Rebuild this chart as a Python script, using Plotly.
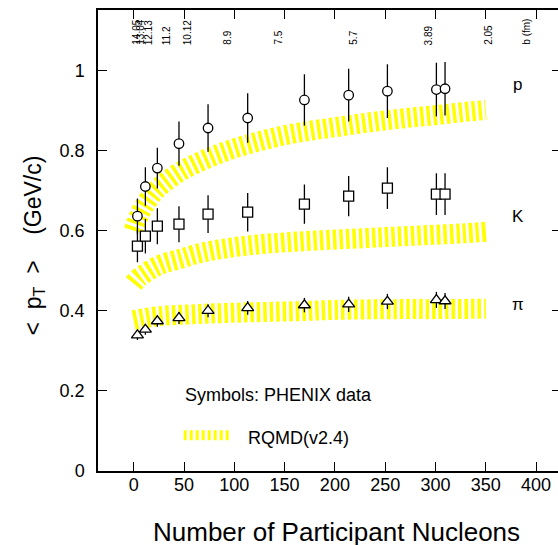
import plotly.graph_objects as go

# ---- data ----
npart = [3.7, 11.6, 23.5, 45.0, 73.9, 113.3, 169.7, 213.7, 252.2, 300.9, 309.5]
proton = [0.636, 0.710, 0.756, 0.817, 0.856, 0.881, 0.926, 0.938, 0.948, 0.952, 0.954]
proton_err = [0.044, 0.048, 0.051, 0.055, 0.059, 0.062, 0.064, 0.066, 0.067, 0.067, 0.067]
kaon = [0.561, 0.586, 0.611, 0.616, 0.641, 0.646, 0.666, 0.686, 0.706, 0.691, 0.691]
kaon_err = [0.040, 0.043, 0.045, 0.045, 0.047, 0.048, 0.049, 0.050, 0.052, 0.052, 0.052]
pion = [0.339, 0.353, 0.374, 0.382, 0.400, 0.407, 0.414, 0.416, 0.423, 0.427, 0.424]
pion_err = [0.012, 0.013, 0.014, 0.015, 0.016, 0.017, 0.018, 0.019, 0.019, 0.020, 0.020]

rqmd_n_p = [0, 5, 10, 20, 30, 45, 60, 80, 100, 125, 150, 175, 200, 225, 250, 275, 300, 325, 350]
rqmd_p = [0.600, 0.635, 0.660, 0.695, 0.718, 0.745, 0.765, 0.787, 0.805, 0.823, 0.838,
          0.849, 0.858, 0.867, 0.875, 0.882, 0.888, 0.895, 0.901]
rqmd_n_k = [0, 5, 10, 20, 30, 47, 60, 80, 114, 147, 180, 228, 261, 294, 327, 350]
rqmd_k = [0.468, 0.482, 0.491, 0.507, 0.518, 0.530, 0.540, 0.551, 0.563, 0.570, 0.575,
          0.581, 0.585, 0.589, 0.593, 0.597]
rqmd_n_pi = [0, 10, 20, 33, 66, 100, 132, 165, 200, 263, 300, 350]
rqmd_pi = [0.376, 0.381, 0.385, 0.388, 0.392, 0.395, 0.397, 0.399, 0.402, 0.404, 0.404, 0.405]

b_labels = ["14.05", "13.04", "12.13", "11.2", "10.12", "8.9", "7.5", "5.7", "3.89", "2.05", "b (fm)"]
b_npart = [2.5, 6.5, 15, 32.8, 53.7, 92.4, 143, 217.7, 293, 352, 389.7]

x_ticks = [0, 50, 100, 150, 200, 250, 300, 350, 400]
y_ticks = [0, 0.2, 0.4, 0.6, 0.8, 1.0]
y_tick_text = ["0", "0.2", "0.4", "0.6", "0.8", "1"]

species_labels = ["p", "K", "π"]
species_label_y = [0.965, 0.636, 0.416]

FONT = "Liberation Sans, Arial, sans-serif"
YELLOW = "#ffff00"
BAND_DASH = "3.5px,3px"

fig = go.Figure()

for xs, ys in [(rqmd_n_p, rqmd_p), (rqmd_n_k, rqmd_k), (rqmd_n_pi, rqmd_pi)]:
    fig.add_trace(go.Scatter(
        x=xs, y=ys, mode="lines",
        line=dict(color=YELLOW, width=20, dash=BAND_DASH, shape="spline", smoothing=1),
        showlegend=False, hoverinfo="skip"))

for ys, errs, sym, size in [(proton, proton_err, "circle", 9.5),
                            (kaon, kaon_err, "square", 10),
                            (pion, pion_err, "triangle-up", 10.5)]:
    fig.add_trace(go.Scatter(
        x=npart, y=ys, mode="markers",
        marker=dict(symbol=sym, size=size, color="white",
                    line=dict(color="black", width=1.3)),
        error_y=dict(type="data", array=errs, visible=True, color="black",
                     thickness=1.3, width=0),
        showlegend=False))

# invisible trace to carry the right-hand tick axis
fig.add_trace(go.Scatter(x=[None], y=[None], yaxis="y2", showlegend=False, hoverinfo="skip"))

annotations = []
for lab, xv in zip(b_labels, b_npart):
    annotations.append(dict(
        x=xv, xref="x", y=1, yref="paper", yshift=-37, yanchor="bottom", xanchor="center",
        text=lab, textangle=-90, showarrow=False,
        font=dict(family=FONT, size=10, color="black")))

for lab, yv in zip(species_labels, species_label_y):
    annotations.append(dict(
        x=381.7, xref="x", y=yv, yref="y", text=lab, showarrow=False,
        xanchor="center", yanchor="middle",
        font=dict(family=FONT, size=17, color="black")))

annotations.append(dict(
    x=49, xref="x", y=0.189, yref="y", text="Symbols: PHENIX data", showarrow=False,
    xanchor="left", yanchor="middle", font=dict(family=FONT, size=18, color="black")))
annotations.append(dict(
    x=111.3, xref="x", y=0.082, yref="y", text="RQMD(v2.4)", showarrow=False,
    xanchor="left", yanchor="middle", font=dict(family=FONT, size=18, color="black")))

# axis titles
annotations.append(dict(
    x=0.5, xref="paper", xshift=8, y=0, yref="paper", yshift=-61,
    text="Number of Participant Nucleons", showarrow=False,
    xanchor="center", yanchor="middle", font=dict(family=FONT, size=26, color="black")))
annotations.append(dict(
    x=0, xref="paper", xshift=-64, y=0.5, yref="paper", yshift=-5,
    text="&lt;  p<sub>T</sub>  &gt;    (GeV/c)", showarrow=False, textangle=-90,
    xanchor="center", yanchor="middle", font=dict(family=FONT, size=23, color="black")))

shapes = [dict(type="line", xref="x", yref="y", x0=49.7, x1=97.1, y0=0.089, y1=0.089,
               line=dict(color=YELLOW, width=10, dash="3px,3px"))]

fig.update_layout(
    width=558, height=545,
    margin=dict(l=98, r=0, t=10, b=74),
    paper_bgcolor="white", plot_bgcolor="white",
    font=dict(family=FONT, size=18, color="black"),
    xaxis=dict(range=[-35.5, 421.8], tickvals=x_ticks, ticks="inside", ticklen=9,
               tickwidth=1.3, tickcolor="black", showline=True, linewidth=1.5,
               linecolor="black", mirror="ticks", showgrid=False, zeroline=False,
               ticklabelstandoff=-3, tickfont=dict(family=FONT, size=18)),
    yaxis=dict(range=[0, 1.1505], tickvals=y_ticks, ticktext=y_tick_text, ticks="inside",
               ticklen=9, tickwidth=1.3, tickcolor="black", showline=True, linewidth=1.5,
               linecolor="black", showgrid=False, zeroline=False, ticklabelstandoff=8,
               tickfont=dict(family=FONT, size=18)),
    yaxis2=dict(range=[0, 1.1505], overlaying="y", side="right", anchor="x",
                tickvals=y_ticks, ticks="inside", ticklen=6, tickwidth=1.3,
                tickcolor="black", showline=False, showticklabels=False,
                showgrid=False, zeroline=False),
    annotations=annotations,
    shapes=shapes,
)

fig.write_html("out.html", config={"displayModeBar": False},
               post_script="document.body.style.margin='0';document.body.style.padding='0';")
